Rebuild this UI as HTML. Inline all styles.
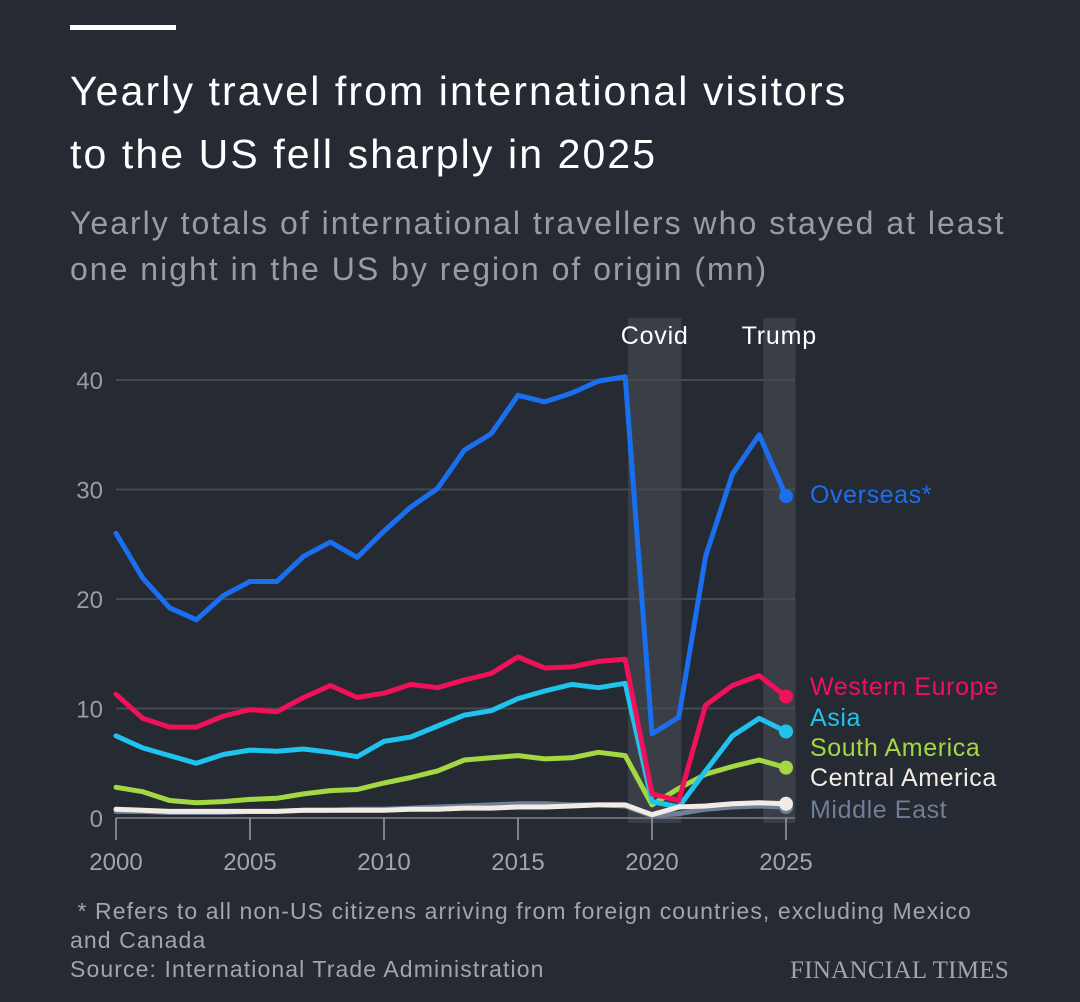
<!DOCTYPE html>
<html><head><meta charset="utf-8">
<style>
html,body{margin:0;padding:0;background:#262a33;}
body{width:1080px;height:1002px;position:relative;overflow:hidden;font-family:"Liberation Sans",sans-serif;}
.t{position:absolute;white-space:nowrap;}
</style></head>
<body>
<div style="position:absolute;left:70px;top:25px;width:106px;height:5px;background:#fff"></div>
<div class="t" style="left:70px;top:60px;font-size:41px;line-height:63px;letter-spacing:2.1px;color:#fff">Yearly travel from international visitors<br>to the US fell sharply in 2025</div>
<div class="t" style="left:70px;top:200px;font-size:32px;line-height:46px;letter-spacing:2px;color:#9a9ca3">Yearly totals of international travellers who stayed at least<br>one night in the US by region of origin (mn)</div>
<svg id="chart" width="1080" height="1002" style="position:absolute;left:0;top:0"></svg>
<div class="t" style="left:70px;top:897px;font-size:23px;line-height:29px;letter-spacing:1.1px;color:#a3a5ab">&nbsp;* Refers to all non-US citizens arriving from foreign countries, excluding Mexico<br>and Canada<br>Source: International Trade Administration</div>
<div class="t" style="left:790px;top:957px;font-family:'Liberation Serif',serif;font-size:25px;color:#a3a5ab;letter-spacing:0.3px">FINANCIAL TIMES</div>
<script>
const years=[2000,2001,2002,2003,2004,2005,2006,2007,2008,2009,2010,2011,2012,2013,2014,2015,2016,2017,2018,2019,2020,2021,2022,2023,2024,2025];
const overseas=[26.0,21.9,19.2,18.1,20.3,21.6,21.6,23.9,25.2,23.8,26.2,28.4,30.1,33.6,35.1,38.6,38.0,38.8,39.9,40.3,7.7,9.2,23.9,31.4,35.0,29.4];
const westernEurope=[11.3,9.1,8.3,8.3,9.3,9.9,9.7,11.0,12.1,11.0,11.4,12.2,11.9,12.6,13.2,14.7,13.7,13.8,14.3,14.5,2.2,1.6,10.3,12.1,13.0,11.1];
const asia=[7.5,6.4,5.7,5.0,5.8,6.2,6.1,6.3,6.0,5.6,7.0,7.4,8.4,9.4,9.8,10.9,11.6,12.2,11.9,12.3,1.5,1.0,4.3,7.5,9.1,7.9];
const southAmerica=[2.8,2.4,1.6,1.4,1.5,1.7,1.8,2.2,2.5,2.6,3.2,3.7,4.3,5.3,5.5,5.7,5.4,5.5,6.0,5.7,1.2,2.7,4.0,4.7,5.3,4.6];
const middleEast=[0.6,0.6,0.5,0.5,0.5,0.6,0.6,0.7,0.7,0.8,0.8,0.9,1.0,1.1,1.2,1.3,1.3,1.2,1.2,1.1,0.2,0.4,0.8,1.0,1.1,1.0];
const centralAmerica=[0.8,0.7,0.6,0.6,0.6,0.6,0.6,0.7,0.7,0.7,0.7,0.8,0.8,0.9,0.9,1.0,1.0,1.1,1.2,1.2,0.3,1.0,1.1,1.3,1.4,1.3];
const yTicks=[0,10,20,30,40];
const xTicks=[2000,2005,2010,2015,2020,2025];
const bands=[["Covid",2019.1,2021.1],["Trump",2024.15,2025.35]];
const series=[
 ["Middle East",middleEast,"#6e7f96",809],
 ["South America",southAmerica,"#a4d843",747],
 ["Asia",asia,"#1fc3ee",717],
 ["Western Europe",westernEurope,"#f0115a",686],
 ["Overseas*",overseas,"#1a6ff0",494],
 ["Central America",centralAmerica,"#f2ece4",777]
];
const X=y=>116+(y-2000)*26.8;
const Y=v=>818-v*10.95;
const svg=document.getElementById('chart');
const NS="http://www.w3.org/2000/svg";
function mk(t,a){const e=document.createElementNS(NS,t);for(const k in a)e.setAttribute(k,a[k]);svg.appendChild(e);return e;}
bands.forEach(b=>{
 const r=mk('rect',{x:X(b[1]),y:318,width:X(b[2])-X(b[1]),height:505,fill:'#3a3e47'});
 
 
 const t=mk('text',{x:(X(b[1])+X(b[2]))/2,y:344,'text-anchor':'middle','font-size':25,'letter-spacing':0.8,fill:'#fff','font-family':'Liberation Sans, sans-serif'});
 t.textContent=b[0];
 
 
});
yTicks.forEach(v=>{
 const l=mk('line',{x1:116,x2:795,y1:Y(v),y2:Y(v),stroke:v===0?'#6a6d75':'#454952','stroke-width':2});
 
 
 const t=mk('text',{x:103,y:Y(v)+9,'text-anchor':'end','font-size':24,fill:'#9a9ca3','font-family':'Liberation Sans, sans-serif'});
 t.textContent=v;
 
 
});
xTicks.forEach(v=>{
 const l=mk('line',{x1:X(v),x2:X(v),y1:818,y2:840,stroke:'#9a9ca3','stroke-width':1.5});
 
 
 const t=mk('text',{x:X(v),y:870,'text-anchor':'middle','font-size':24,fill:'#a3a5ab','font-family':'Liberation Sans, sans-serif'});
 t.textContent=v;
 
 
});
series.forEach(s=>{
 const d=s[1].map((v,i)=>(i?'L':'M')+X(years[i]).toFixed(1)+','+Y(v).toFixed(1)).join('');
 const p=mk('path',{d:d,fill:'none',stroke:s[2],'stroke-width':5,'stroke-linejoin':'round','stroke-linecap':'round'});
 
 
 const last=s[1].length-1;
 const c=mk('circle',{cx:X(years[last]),cy:Y(s[1][last]),r:7,fill:s[2]});
 
 
 const t=mk('text',{x:810,y:s[3]+9,'font-size':25,'letter-spacing':0.6,fill:s[2],'font-family':'Liberation Sans, sans-serif'});
 t.textContent=s[0];
 
 
});
</script>
</body></html>
